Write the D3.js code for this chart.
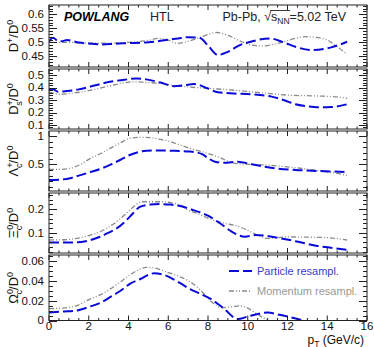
<!DOCTYPE html>
<html><head><meta charset="utf-8">
<script src="https://cdn.jsdelivr.net/npm/d3@7"></script>
<style>
html,body{margin:0;padding:0;background:#fff;}
svg{display:block;font-family:"Liberation Sans",Arial,Helvetica,sans-serif;}
</style></head>
<body>
<svg id="c" width="374" height="347"></svg>
<script>
// ---------------- data ----------------
const xTicks = [0, 2, 4, 6, 8, 10, 12, 14, 16];

// D+/D0
const dpX_part = [0, 0.2, 0.45, 0.65, 0.9, 1.5, 2.2, 2.7, 3.3, 4, 5, 5.8, 6.5, 7.0, 7.6, 8.0, 8.5, 9.0, 9.6, 10.2, 11.1, 11.8, 12.4, 13.2, 14.2, 15];
const dpY_part = [0.503, 0.516, 0.505, 0.504, 0.508, 0.499, 0.495, 0.492, 0.495, 0.497, 0.5, 0.507, 0.514, 0.518, 0.515, 0.488, 0.455, 0.466, 0.49, 0.503, 0.514, 0.5, 0.484, 0.472, 0.482, 0.502];
const dpX_mom = [0, 1, 2, 3, 4, 5, 5.5, 5.9, 6.5, 6.9, 7.5, 8.0, 8.45, 9.0, 9.7, 10.2, 10.7, 11.5, 12.4, 12.9, 13.9, 14.5, 15];
const dpY_mom = [0.5, 0.5, 0.497, 0.497, 0.5, 0.507, 0.514, 0.51, 0.496, 0.502, 0.515, 0.528, 0.535, 0.525, 0.502, 0.49, 0.487, 0.496, 0.514, 0.52, 0.511, 0.484, 0.458];

// Ds+/D0
const dsX_part = [0, 0.2, 0.45, 0.9, 1.5, 2.06, 2.6, 3.07, 3.8, 4.4, 4.9, 5.6, 6.3, 6.8, 7.3, 8.0, 8.5, 9.3, 10.2, 11.2, 11.8, 12.4, 13.0, 13.5, 14.2, 15];
const dsY_part = [0.38, 0.386, 0.366, 0.372, 0.385, 0.406, 0.428, 0.446, 0.462, 0.473, 0.465, 0.44, 0.41, 0.418, 0.428, 0.392, 0.362, 0.352, 0.346, 0.327, 0.3, 0.266, 0.25, 0.242, 0.244, 0.266];
const dsX_mom = [0, 0.3, 0.6, 1.0, 1.7, 2.5, 3.07, 3.7, 4.2, 4.9, 5.6, 6.3, 7.1, 8.5, 10.2, 11.9, 13.5, 14.5, 15];
const dsY_mom = [0.365, 0.35, 0.346, 0.352, 0.366, 0.392, 0.414, 0.435, 0.446, 0.44, 0.433, 0.415, 0.403, 0.388, 0.366, 0.34, 0.332, 0.325, 0.314];

// Lambda_c+/D0
const lcX_part = [0, 0.5, 1.06, 1.5, 2.06, 2.6, 3.07, 3.6, 4.07, 4.5, 4.9, 5.5, 6.1, 7.1, 7.7, 8.0, 8.35, 8.85, 9.5, 10.2, 11.0, 12.4, 13.5, 15];
const lcY_part = [0.223, 0.228, 0.253, 0.3, 0.36, 0.42, 0.49, 0.58, 0.664, 0.715, 0.74, 0.745, 0.74, 0.725, 0.68, 0.61, 0.546, 0.528, 0.546, 0.5, 0.447, 0.4, 0.382, 0.364];
const lcX_mom = [0, 0.5, 1.06, 1.6, 2.06, 2.6, 3.07, 3.6, 4.07, 4.6, 5.1, 5.6, 6.1, 6.6, 7.1, 8.0, 8.5, 9.36, 10.0, 10.7, 12.4, 13.9, 14.5, 15];
const lcY_mom = [0.41, 0.41, 0.43, 0.5, 0.6, 0.69, 0.78, 0.88, 0.96, 0.977, 0.97, 0.94, 0.9, 0.84, 0.78, 0.69, 0.63, 0.517, 0.5, 0.49, 0.44, 0.37, 0.34, 0.3];

// Xi_c0/D0
const xcX_part = [0, 0.7, 1.4, 2.0, 2.57, 3.0, 3.4, 3.8, 4.07, 4.6, 5.1, 5.6, 6.1, 6.6, 7.1, 8.0, 8.6, 9.2, 9.86, 10.4, 11.9, 12.4, 13.5, 14.3, 15];
const xcY_part = [0.058, 0.058, 0.059, 0.067, 0.083, 0.1, 0.118, 0.145, 0.168, 0.21, 0.219, 0.221, 0.219, 0.213, 0.2, 0.172, 0.14, 0.104, 0.083, 0.09, 0.072, 0.064, 0.044, 0.035, 0.027];
const xcX_mom = [0, 0.7, 1.4, 2.0, 2.57, 3.0, 3.4, 3.8, 4.07, 4.7, 5.6, 6.6, 6.9, 7.5, 8.2, 8.8, 9.4, 10.0, 10.6, 11.0, 12.0, 13.0, 14.0, 15];
const xcY_mom = [0.069, 0.07, 0.076, 0.088, 0.104, 0.124, 0.146, 0.175, 0.196, 0.231, 0.231, 0.217, 0.2, 0.18, 0.155, 0.14, 0.13, 0.11, 0.085, 0.076, 0.082, 0.081, 0.079, 0.069];

// Omega_c0/D0
const ocX_part = [0, 0.7, 1.4, 2.06, 2.6, 3.07, 3.6, 4.07, 4.6, 5.0, 5.3, 5.8, 6.6, 7.1, 7.6, 8.2, 8.8, 9.5, 10.0, 10.5, 11.0, 11.6, 12.2, 12.8];
const ocY_part = [0.008, 0.009, 0.010, 0.014, 0.018, 0.0235, 0.03, 0.037, 0.0418, 0.046, 0.0476, 0.0458, 0.0376, 0.0316, 0.027, 0.021, 0.012, 0.0014, 0.004, 0.0065, 0.008, 0.0057, 0.003, 0];
const ocX_mom = [0, 0.7, 1.4, 2.06, 2.6, 3.07, 3.6, 4.07, 4.5, 4.9, 5.3, 5.9, 6.6, 7.1, 7.6, 8.2, 8.7, 9.2, 9.6, 10.0, 10.4, 10.9, 11.1];
const ocY_mom = [0.012, 0.0125, 0.015, 0.0215, 0.026, 0.0316, 0.039, 0.046, 0.051, 0.0535, 0.053, 0.049, 0.044, 0.039, 0.031, 0.0185, 0.013, 0.0138, 0.0148, 0.0125, 0.0074, 0.0015, 0];

const p1Ticks = [0.45, 0.5, 0.55, 0.6];
const p2Ticks = [0.1, 0.2, 0.3, 0.4, 0.5];
const p3Ticks = [0.5, 1];
const p4Ticks = [0.1, 0.2];
const p5Ticks = [0, 0.02, 0.04, 0.06];

const legendLabels = ["Particle resampl.", "Momentum resampl."];

// ---------------- layout ----------------
const L = 49, R = 367;
const BLUE = "#0a0ad8", GRAY = "#8a8a8a";
const svg = d3.select("#c");
const x = d3.scaleLinear().domain([0, 16]).range([L, R]);

const panels = [
  {top: 5, bot: 67, dom: [0.412, 0.633], ticks: p1Ticks, minor: 0.01, title: ["D", [["+", "sup"]], "/D", [["0", "sup"]]], px: dpX_part, py: dpY_part, mx: dpX_mom, my: dpY_mom},
  {top: 69, bot: 129, dom: [0.068, 0.548], ticks: p2Ticks, minor: 0.02, title: ["D", [["+", "sup"], ["s", "sub"]], "/D", [["0", "sup"]]], px: dsX_part, py: dsY_part, mx: dsX_mom, my: dsY_mom},
  {top: 131, bot: 191, dom: [0.028, 1.088], ticks: p3Ticks, minor: 0.1, title: ["Λ", [["+", "sup"], ["c", "sub"]], "/D", [["0", "sup"]]], px: lcX_part, py: lcY_part, mx: lcX_mom, my: lcY_mom},
  {top: 193, bot: 253, dom: [0.014, 0.268], ticks: p4Ticks, minor: 0.02, title: ["Ξ", [["0", "sup"], ["c", "sub"]], "/D", [["0", "sup"]]], px: xcX_part, py: xcY_part, mx: xcX_mom, my: xcY_mom},
  {top: 255, bot: 320.5, dom: [0, 0.066], ticks: p5Ticks, minor: 0.005, title: ["Ω", [["0", "sup"], ["c", "sub"]], "/D", [["0", "sup"]]], px: ocX_part, py: ocY_part, mx: ocX_mom, my: ocY_mom}
];

const defs = svg.append("defs");

panels.forEach((p, i) => {
  const y = d3.scaleLinear().domain(p.dom).range([p.bot, p.top]);
  const g = svg.append("g");
  defs.append("clipPath").attr("id", "clip" + i).append("rect")
    .attr("x", L).attr("y", p.top).attr("width", R - L).attr("height", p.bot - p.top);

  const line = d3.line().x(d => x(d[0])).y(d => y(d[1])).curve(d3.curveMonotoneX);
  const cg = g.append("g").attr("clip-path", `url(#clip${i})`);
  cg.append("path").datum(p.mx.map((v, k) => [v, p.my[k]]))
    .attr("d", line).attr("fill", "none").attr("stroke", GRAY)
    .attr("stroke-width", 1.3).attr("stroke-dasharray", "5,2,1,2,1,2");
  cg.append("path").datum(p.px.map((v, k) => [v, p.py[k]]))
    .attr("d", line).attr("fill", "none").attr("stroke", BLUE)
    .attr("stroke-width", 2).attr("stroke-dasharray", "10,4");

  g.append("rect").attr("x", L).attr("y", p.top).attr("width", R - L).attr("height", p.bot - p.top)
    .attr("fill", "none").attr("stroke", "#222").attr("stroke-width", 1);

  const xMinor = d3.range(0, 16.001, 0.5);
  xMinor.forEach(v => {
    const major = Math.abs(v / 2 - Math.round(v / 2)) < 1e-6;
    const len = major ? 5 : 2.5;
    g.append("line").attr("x1", x(v)).attr("x2", x(v)).attr("y1", p.bot).attr("y2", p.bot - len).attr("stroke", "#222");
    g.append("line").attr("x1", x(v)).attr("x2", x(v)).attr("y1", p.top).attr("y2", p.top + len).attr("stroke", "#222");
  });

  const start = Math.ceil(p.dom[0] / p.minor - 1e-6) * p.minor;
  const ym = d3.range(start, p.dom[1] + 1e-9, p.minor).map(v => +v.toFixed(5));
  ym.forEach(v => {
    const major = p.ticks.some(t => Math.abs(t - v) < 1e-6);
    const len = major ? 8 : 4;
    const yy = Math.round(y(v)) + 0.5;
    g.append("line").attr("x1", L).attr("x2", L + len).attr("y1", yy).attr("y2", yy).attr("stroke", "#222");
    g.append("line").attr("x1", R).attr("x2", R - len).attr("y1", yy).attr("y2", yy).attr("stroke", "#222");
  });

  g.selectAll(".yl").data(p.ticks).enter().append("text")
    .attr("x", 44).attr("y", d => y(d)).attr("dy", "0.34em")
    .attr("text-anchor", "end").attr("font-size", 11.5).attr("fill", "#111")
    .text(d => String(d));

  const cy = (p.top + p.bot) / 2;
  const t = svg.append("text").attr("transform", `translate(18,${cy}) rotate(-90)`)
    .attr("text-anchor", "middle").attr("font-size", 13).attr("fill", "#111");
  const parts = p.title;
  t.append("tspan").text(parts[0]);
  let sc = parts[1];
  t.append("tspan").attr("font-size", 9).attr("dy", -5).text(sc[0][0]);
  if (sc.length > 1) {
    t.append("tspan").attr("font-size", 9).attr("dx", -5.5).attr("dy", 9).text(sc[1][0]);
    t.append("tspan").attr("dy", -4).text(parts[2]);
  } else {
    t.append("tspan").attr("dy", 5).text(parts[2]);
  }
  t.append("tspan").attr("font-size", 9).attr("dy", -5).text(parts[3][0][0]);
});

svg.selectAll(".xl").data(xTicks).enter().append("text")
  .attr("x", d => x(d)).attr("y", 330).attr("text-anchor", "middle")
  .attr("font-size", 11.5).attr("fill", "#111").text(d => d);

const xt = svg.append("text").attr("x", 364).attr("y", 344).attr("text-anchor", "end")
  .attr("font-size", 12).attr("fill", "#111");
xt.append("tspan").text("p");
xt.append("tspan").attr("font-size", 8.5).attr("dy", 2.5).text("T");
xt.append("tspan").attr("dy", -2.5).text(" (GeV/c)");

svg.append("text").attr("x", 64).attr("y", 21).attr("font-size", 12.5)
  .attr("font-weight", "bold").attr("font-style", "italic").attr("fill", "#000").text("POWLANG");
svg.append("text").attr("x", 150).attr("y", 21).attr("font-size", 12.5).attr("fill", "#222").text("HTL");
const hd = svg.append("text").attr("x", 346).attr("y", 21).attr("text-anchor", "end")
  .attr("font-size", 12.5).attr("fill", "#222");
hd.append("tspan").text("Pb-Pb, √");
hd.append("tspan").text("s");
hd.append("tspan").attr("font-size", 8.5).attr("dy", 3).text("NN");
hd.append("tspan").attr("dy", -3).text("=5.02 TeV");
try {
  const n = hd.node();
  const s0 = n.getStartPositionOfChar(8), e0 = n.getEndPositionOfChar(10);
  svg.append("line").attr("x1", s0.x - 1).attr("x2", e0.x + 0.5).attr("y1", 10.5).attr("y2", 10.5)
    .attr("stroke", "#222").attr("stroke-width", 0.9);
} catch (e) {}

const lg = svg.append("g");
lg.append("line").attr("x1", 229).attr("x2", 252).attr("y1", 271).attr("y2", 271)
  .attr("stroke", BLUE).attr("stroke-width", 2).attr("stroke-dasharray", "10,4");
lg.append("text").attr("x", 257).attr("y", 271).attr("dy", "0.36em").attr("font-size", 11)
  .attr("fill", "#3a3ad0").text(legendLabels[0]);
lg.append("line").attr("x1", 229).attr("x2", 252).attr("y1", 291).attr("y2", 291)
  .attr("stroke", GRAY).attr("stroke-width", 1.3).attr("stroke-dasharray", "5,2,1,2,1,2");
lg.append("text").attr("x", 257).attr("y", 291).attr("dy", "0.36em").attr("font-size", 11)
  .attr("fill", "#999").text(legendLabels[1]);
</script>
</body></html>
